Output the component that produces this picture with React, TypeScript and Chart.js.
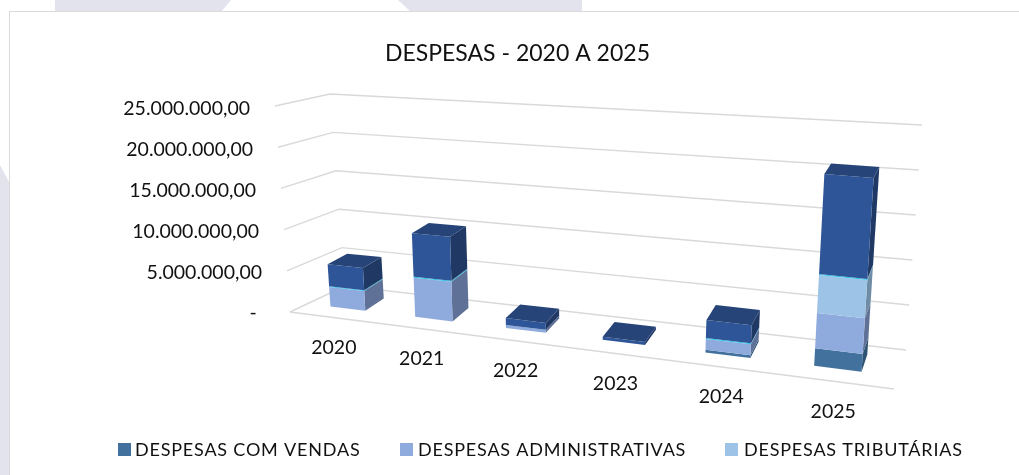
import React, { useEffect, useRef } from "react";
import { Chart, registerables } from "chart.js";

Chart.register(...registerables);

const categories = ["2020", "2021", "2022", "2023", "2024", "2025"];
const vendas = [0, 0, 0, 0, 300000, 1900000];
const administrativas = [2400000, 4700000, 350000, 0, 1200000, 3800000];
const tributarias = [0, 0, 0, 0, 0, 4100000];
const outras = [100000, 120000, 0, 0, 100000, 120000];
const financeiras = [2700000, 5200000, 800000, 350000, 2000000, 10800000];
const yTicks = [0, 5000000, 10000000, 15000000, 20000000, 25000000];
const legendLabels = ["DESPESAS COM VENDAS", "DESPESAS ADMINISTRATIVAS", "DESPESAS TRIBUTÁRIAS"];

const FONT = "Lato, 'Open Sans', sans-serif";
const faces = [
  { front: "#41719C", side: "#2E5272", top: "#35608A" },
  { front: "#8FAADC", side: "#5F7196", top: "#7A94C4" },
  { front: "#9DC3E6", side: "#6F8CA6", top: "#86AACB" },
  { front: "#2FC6EA", side: "#2FB0D2", top: "#2FB0D2" },
  { front: "#2E5597", side: "#203864", top: "#264478" },
];

const fmtTick = (v: number) => {
  if (v === 0) return "-";
  return v.toLocaleString("de-DE", { minimumFractionDigits: 2, maximumFractionDigits: 2 });
};

const BOX_FRONT = 0.33;
const BOX_BACK = 0.78;

// Perspective of the 3D box: plot position u (0..1 along the categories),
// depth d (0 front..1 back), height t (0..1 of the value axis).
function project(u: number, d: number, t: number) {
  const xf = 307 + 480 * u + 108 * u * u;
  const dx = 45 - 34 * u;
  const xEdge = xf - BOX_FRONT * dx;
  const yEdge = 312 + ((xEdge - 290) * 77) / 604;
  const x0 = xEdge + d * dx;
  const y0 = yEdge - d * (26 + 13 * u);
  const h = (206 + 35 * u) * (1 - 0.07 * d);
  const lean = -15 + 31 * u;
  return { x: x0 + lean * t, y: y0 - h * t };
}

function poly(ctx: CanvasRenderingContext2D, pts: { x: number; y: number }[], fill: string) {
  ctx.beginPath();
  pts.forEach((p, i) => (i ? ctx.lineTo(p.x, p.y) : ctx.moveTo(p.x, p.y)));
  ctx.closePath();
  ctx.fillStyle = fill;
  ctx.fill();
}

const box3d = {
  id: "box3d",
  afterLayout(chart: any) {
    const title = chart.titleBlock;
    if (title) {
      title.left += 8;
      title.right += 8;
    }
  },
  beforeDatasetDraw() {
    return false; // the flat bars are replaced by the projected boxes below
  },
  beforeDatasetsDraw(chart: any) {
    const { ctx, scales } = chart;
    const ys = scales.y;
    const bottom = ys.getPixelForValue(0);
    const top = ys.getPixelForValue(ys.max);
    const tOf = (px: number) => (bottom - px) / (bottom - top);
    ctx.save();

    // walls and floor
    ctx.strokeStyle = "#D9D9D9";
    ctx.lineWidth = 1.4;
    ys.ticks.forEach((tick: any) => {
      const t = tOf(ys.getPixelForValue(tick.value));
      ctx.beginPath();
      ctx.moveTo(290 - 15 * t, 312 - 206 * t);
      ctx.lineTo(345 - 15 * t, 286 - 192 * t);
      ctx.lineTo(906 + 16 * t, 350 - 225 * t);
      ctx.stroke();
    });
    ctx.beginPath();
    ctx.moveTo(290, 312);
    ctx.lineTo(894, 389);
    ctx.stroke();

    // boxes
    const area = chart.chartArea;
    const nSets = chart.data.datasets.length;
    categories.forEach((_, i) => {
      let last = -1;
      for (let s = 0; s < nSets; s++) {
        const v = chart.data.datasets[s].data[i];
        if (v > 0) last = s;
      }
      for (let s = 0; s < nSets; s++) {
        const v = chart.data.datasets[s].data[i];
        if (!(v > 0)) continue;
        const el = chart.getDatasetMeta(s).data[i];
        const ul = (el.x - el.width / 2 - area.left) / area.width;
        const ur = (el.x + el.width / 2 - area.left) / area.width;
        const t0 = tOf(el.base);
        const t1 = tOf(el.y);
        const dF = BOX_FRONT;
        const dB = BOX_BACK;
        const c = faces[s];
        poly(ctx, [project(ur, dF, t0), project(ur, dB, t0), project(ur, dB, t1), project(ur, dF, t1)], c.side);
        poly(ctx, [project(ul, dF, t0), project(ur, dF, t0), project(ur, dF, t1), project(ul, dF, t1)], c.front);
        if (s === last) {
          poly(ctx, [project(ul, dF, t1), project(ur, dF, t1), project(ur, dB, t1), project(ul, dB, t1)], c.top);
        }
      }
    });

    // value labels follow the slanted wall
    ctx.fillStyle = "#111";
    ctx.font = `19.5px ${FONT}`;
    ctx.textBaseline = "middle";
    ys.ticks.forEach((tick: any) => {
      const y = ys.getPixelForValue(tick.value);
      const frac = tick.value / ys.max;
      if (tick.value === 0) {
        ctx.textAlign = "center";
        ctx.fillText(fmtTick(tick.value), 253, y);
      } else {
        ctx.textAlign = "right";
        ctx.fillText(fmtTick(tick.value), 250 + (1 - frac) * 15, y + 0.5);
      }
    });

    // category labels run along the floor edge
    ctx.textAlign = "center";
    categories.forEach((label, i) => {
      const el = chart.getDatasetMeta(0).data[i];
      const u = (el.x - area.left) / area.width;
      const p = project(u, 0, 0);
      ctx.fillText(label, p.x, p.y + 30);
    });

    // legend
    ctx.textAlign = "left";
    ctx.font = `18px ${FONT}`;
    (ctx as any).letterSpacing = "0.8px";
    const entries = [
      { box: 118, text: 135 },
      { box: 400, text: 418 },
      { box: 725, text: 744 },
    ];
    legendLabels.forEach((label, i) => {
      ctx.fillStyle = faces[i].front;
      ctx.fillRect(entries[i].box, 443, 13, 13);
      ctx.fillStyle = "#111";
      ctx.fillText(label, entries[i].text, 450);
    });
    (ctx as any).letterSpacing = "0px";
    ctx.restore();
  },
};

export default function App() {
  const ref = useRef<HTMLCanvasElement | null>(null);
  useEffect(() => {
    document.body.style.margin = "0";
    const chart = new Chart(ref.current!, {
      type: "bar",
      data: {
        labels: categories,
        datasets: [
          { label: legendLabels[0], data: vendas, backgroundColor: faces[0].front },
          { label: legendLabels[1], data: administrativas, backgroundColor: faces[1].front },
          { label: legendLabels[2], data: tributarias, backgroundColor: faces[2].front },
          { label: "DESPESAS OPERACIONAIS", data: outras, backgroundColor: faces[3].front },
          { label: "DESPESAS FINANCEIRAS", data: financeiras, backgroundColor: faces[4].front },
        ],
      },
      plugins: [box3d],
      options: {
        animation: false,
        responsive: false,
        datasets: { bar: { barPercentage: 0.42, categoryPercentage: 1 } },
        layout: { padding: 0 },
        plugins: {
          legend: { display: false },
          tooltip: { enabled: false },
          title: {
            display: true,
            text: "DESPESAS - 2020 A 2025",
            color: "#111",
            font: { family: FONT, size: 23, weight: "normal" },
            padding: { top: 40, bottom: 41 },
          },
        },
        scales: {
          x: {
            stacked: true,
            grid: { display: false },
            border: { display: false },
            ticks: { display: false },
            afterFit: (s: any) => {
              s.height = 162;
            },
          },
          y: {
            stacked: true,
            min: 0,
            max: 25000000,
            grid: { display: false },
            border: { display: false },
            ticks: { display: false, stepSize: 5000000 },
            afterBuildTicks: (s: any) => {
              s.ticks = yTicks.map((value) => ({ value }));
            },
            afterFit: (s: any) => {
              s.width = 262;
            },
          },
        },
      } as any,
    });
    return () => chart.destroy();
  }, []);

  const mark = { position: "absolute", inset: 0, background: "#E2E3EC" } as const;
  return (
    <div style={{ position: "relative", width: 1019, height: 475, overflow: "hidden", background: "#fff" }}>
      <div style={{ ...mark, clipPath: "polygon(55px 0, 231px 0, 221px 12px, 55px 12px)" }} />
      <div style={{ ...mark, clipPath: "polygon(398px 0, 582px 0, 582px 12px, 411px 12px)" }} />
      <div style={{ ...mark, clipPath: "polygon(0 165px, 9px 182px, 9px 475px, 0 475px)" }} />
      <div style={{ position: "absolute", left: 9, top: 11, width: 1030, height: 490, background: "#fff", border: "1.5px solid #DADADA" }} />
      <canvas ref={ref} width={1019} height={475} style={{ position: "absolute", left: 0, top: 0, display: "block", filter: "blur(0.4px)" }} />
    </div>
  );
}
